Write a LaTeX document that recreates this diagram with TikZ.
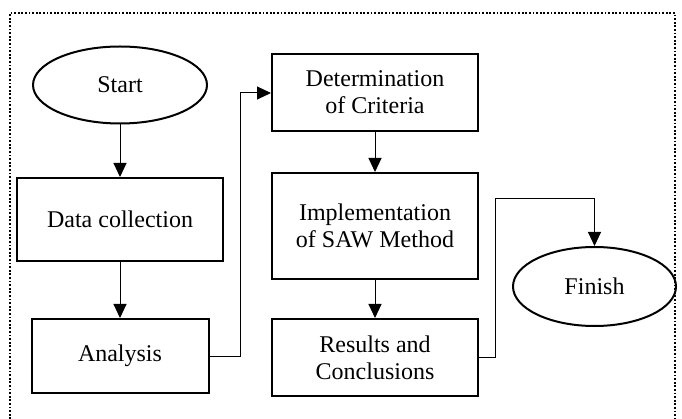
\documentclass[tikz,border=0pt]{standalone}
\usepackage{fontspec}
\setmainfont{Liberation Serif}
\usetikzlibrary{shapes.geometric,arrows.meta}
\begin{document}
\begin{tikzpicture}[x=1pt,y=-1pt,
  every node/.style={font=\fontsize{24}{27}\selectfont, align=center, inner sep=0pt},
  procbox/.style={draw, line width=2pt, rectangle},
  termnode/.style={draw, line width=2pt, ellipse},
  flow/.style={line width=1pt, -{Triangle[width=13pt,length=14pt]}},
  frame/.style={line width=2.2pt, dash pattern=on 1.8pt off 1.8pt}
]
\useasboundingbox (0,0) rectangle (682,419);
\draw[frame] (10,430) -- (10,13) -- (675,13) -- (675,430);
\node[termnode, minimum width=174pt, minimum height=77pt] (start) at (120,85) {Start};
\node[procbox, minimum width=206pt, minimum height=83pt] (data) at (120,219.5) {Data collection};
\node[procbox, minimum width=177pt, minimum height=74pt] (anal) at (120,356) {Analysis};
\node[procbox, minimum width=206pt, minimum height=77pt] (det) at (375,92.5) {Determination\\of Criteria};
\node[procbox, minimum width=206pt, minimum height=106pt] (impl) at (375,226) {Implementation\\of SAW Method};
\node[procbox, minimum width=206pt, minimum height=77pt] (res) at (375,357.5) {Results and\\Conclusions};
\node[termnode, minimum width=163pt, minimum height=79pt] (fin) at (594.5,286.5) {Finish};
\coordinate (c1) at (240,356);
\coordinate (c2) at (240,93);
\coordinate (d1) at (495,357);
\coordinate (d2) at (495,199);
\coordinate (d3) at (594.5,199);
\draw[flow] (start) -- (data);
\draw[flow] (data) -- (anal);
\draw[flow] (anal.east |- c1) -- (c1) -- (c2) -- (det.west |- c2);
\draw[flow] (det) -- (impl);
\draw[flow] (impl) -- (res);
\draw[flow] (res.east |- d1) -- (d1) -- (d2) -- (d3) -- (fin.north);
\end{tikzpicture}
\end{document}
